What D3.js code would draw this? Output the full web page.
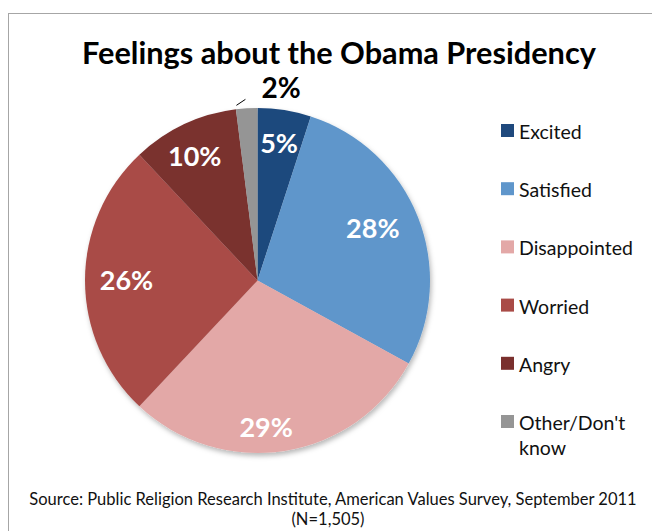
<!DOCTYPE html>
<html><head><meta charset="utf-8">
<script src="https://cdn.jsdelivr.net/npm/d3@7"></script>
<style>
html,body{margin:0;padding:0;background:#fff;}
svg{display:block;font-family:Lato,"Open Sans",sans-serif;}
</style></head>
<body>
<svg id="chart" width="652" height="531"></svg>
<script>
// ---- data ----
const categories = ["Excited", "Satisfied", "Disappointed", "Worried", "Angry", "Other/Don't know"];
const values = [5, 28, 29, 26, 10, 2];
const colors = ["#1F497D", "#5F96CB", "#E3A8A7", "#A94B47", "#7A302E", "#959595"];
const titleText = "Feelings about the Obama Presidency";
const sourceLines = ["Source: Public Religion Research Institute, American Values Survey, September 2011", "(N=1,505)"];

// ---- layout ----
const svg = d3.select("#chart");
const cx = 257.5, cy = 280.5, R = 172.5;

// border
svg.append("rect").attr("x", 8.5).attr("y", 13.5).attr("width", 700).attr("height", 600)
  .attr("fill", "#fff").attr("stroke", "#a6a6a6").attr("stroke-width", 1);

function fitText(sel, width) {
  const len = sel.node().getComputedTextLength();
  const fs = parseFloat(sel.attr("font-size"));
  sel.attr("font-size", fs * width / len);
}
const title = svg.append("text").attr("x", 339).attr("y", 64).attr("text-anchor", "middle")
  .attr("font-weight", "bold").attr("font-size", 28).attr("fill", "#000").text(titleText);
fitText(title, 514);

// drop shadow
const defs = svg.append("defs");
const f = defs.append("filter").attr("id", "shadow").attr("x", "-20%").attr("y", "-20%").attr("width", "140%").attr("height", "140%");
f.append("feDropShadow").attr("dx", 1.5).attr("dy", 3).attr("stdDeviation", 2.5).attr("flood-color", "#000").attr("flood-opacity", 0.28);

const pie = d3.pie().sort(null).value(d => d)(values);
const arc = d3.arc().innerRadius(0).outerRadius(R);
const color = d3.scaleOrdinal().domain(categories).range(colors);

const g = svg.append("g").attr("transform", `translate(${cx},${cy})`);
g.append("g").attr("filter", "url(#shadow)")
  .selectAll("path").data(pie).join("path")
  .attr("d", arc)
  .attr("fill", (d, i) => color(categories[i]));

// data labels: centroid at 0.8R with small nudges (Excel best-fit placement)
const labelArc = d3.arc().innerRadius(R * 0.8).outerRadius(R * 0.8);
const nudges = [[0, 9], [-13, 8], [-13, 20], [7, 9], [-4, 10], [0, 0]];
pie.forEach((d, i) => {
  if (i === 5) return;
  const [x, y] = labelArc.centroid(d);
  g.append("text").attr("x", x + nudges[i][0]).attr("y", y + nudges[i][1])
    .attr("text-anchor", "middle").attr("font-weight", "bold").attr("font-size", 27)
    .attr("fill", "#fff").text(values[i] + "%");
});
// small slice label outside with leader line
{
  const d = pie[5];
  const outer = d3.arc().innerRadius(R + 4).outerRadius(R + 4).centroid(d);
  g.append("line").attr("x1", outer[0] - 10).attr("y1", outer[1] + 1)
    .attr("x2", outer[0] - 1).attr("y2", outer[1] - 5)
    .attr("stroke", "#000").attr("stroke-width", 1);
  g.append("text").attr("x", 281 - cx).attr("y", 98 - cy).attr("text-anchor", "middle")
    .attr("font-weight", "bold").attr("font-size", 28).attr("fill", "#000")
    .text(values[5] + "%");
}

// legend
const legY0 = 124, legStep = 58.2;
const leg = svg.append("g");
categories.forEach((c, i) => {
  const y = legY0 + i * legStep;
  leg.append("rect").attr("x", 501).attr("y", y).attr("width", 13).attr("height", 13).attr("fill", color(c));
  const t = leg.append("text").attr("x", 519).attr("y", y + 15).attr("font-size", 19.5).attr("fill", "#111");
  if (c === "Other/Don't know") {
    t.append("tspan").attr("x", 519).text("Other/Don't");
    t.append("tspan").attr("x", 519).attr("dy", 25).text("know");
  } else t.text(c);
});

// source
const s1 = svg.append("text").attr("x", 333).attr("y", 505).attr("text-anchor", "middle")
  .attr("font-size", 15.5).attr("fill", "#111").text(sourceLines[0]);
fitText(s1, 608);
svg.append("text").attr("x", 328).attr("y", 525).attr("text-anchor", "middle")
  .attr("font-size", s1.attr("font-size")).attr("fill", "#111").text(sourceLines[1]);
</script>
</body></html>
